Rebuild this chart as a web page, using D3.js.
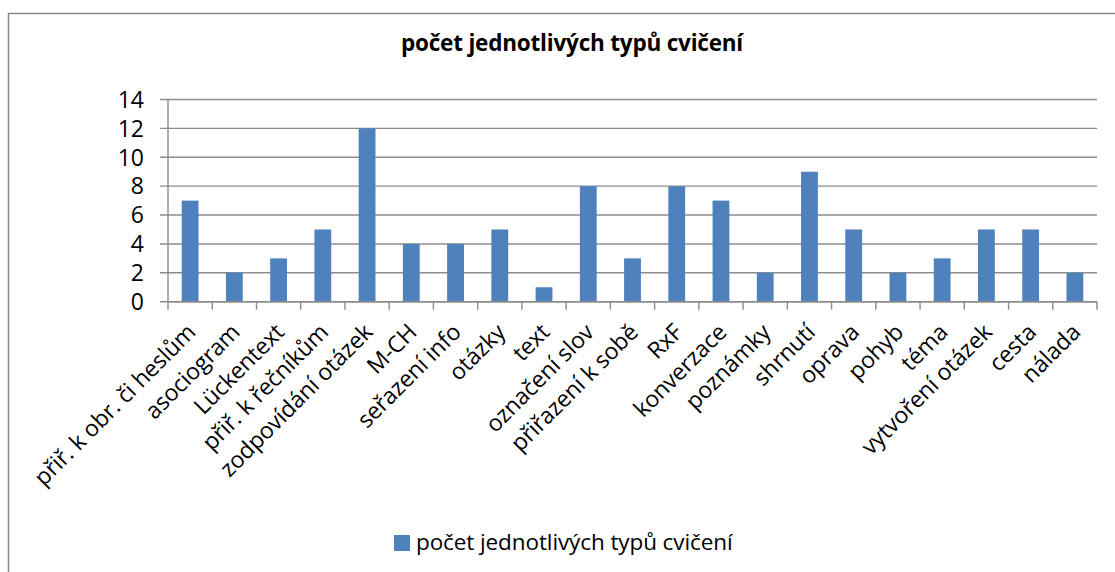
<!DOCTYPE html>
<html><head><meta charset="utf-8">
<script src="https://cdn.jsdelivr.net/npm/d3@7"></script>
<style>body{margin:0;background:#fff}svg{display:block}text{font-family:"Open Sans",sans-serif;fill:#000}</style>
</head><body>
<svg id="c" width="1115" height="572"></svg>
<script>
const categories = ["přiř. k obr. či heslům","asociogram","Lückentext","přiř. k řečníkům","zodpovídání otázek","M-CH","seřazení info","otázky","text","označení slov","přiřazení k sobě","RxF","konverzace","poznámky","shrnutí","oprava","pohyb","téma","vytvoření otázek","cesta","nálada"];
const values = [7,2,3,5,12,4,4,5,1,8,3,8,7,2,9,5,2,3,5,5,2];
const yTicks = [0,2,4,6,8,10,12,14];
const seriesName = "počet jednotlivých typů cvičení";
const titleText = "počet jednotlivých typů cvičení";

const svg = d3.select("#c");
svg.append("rect").attr("x",8.5).attr("y",13.5).attr("width",1130).attr("height",600)
  .attr("fill","none").attr("stroke","#8a8a8a").attr("stroke-width",1.5);

const L=168,R=1097,T=99.5,B=301.7;
const x = d3.scaleBand().domain(categories).range([L,R]).paddingInner(0.62).paddingOuter(0.31);
const xb = d3.scaleBand().domain(categories).range([L,R]);
const y = d3.scaleLinear().domain([0,14]).range([B,T]);

svg.append("text").attr("x",572).attr("y",51).attr("text-anchor","middle")
  .style("font-weight","bold").style("font-size","22.5px").style("letter-spacing","-0.2px").text(titleText);

// gridlines
svg.append("g").selectAll("line").data(yTicks).join("line")
  .attr("x1",160).attr("x2",R).attr("y1",d=>y(d)).attr("y2",d=>y(d))
  .attr("stroke","#8c8c8c").attr("stroke-width",1.4);

// y axis
svg.append("line").attr("x1",L).attr("x2",L).attr("y1",T).attr("y2",B).attr("stroke","#8c8c8c").attr("stroke-width",1.4);
svg.append("g").selectAll("text").data(yTicks).join("text")
  .attr("x",144).attr("y",d=>y(d)).attr("dy","0.36em").attr("text-anchor","end")
  .style("font-size","23px").text(d=>d);

// bars
svg.append("g").selectAll("rect").data(values).join("rect")
  .attr("x",(d,i)=>x(categories[i])).attr("width",x.bandwidth())
  .attr("y",d=>y(d)).attr("height",d=>B-y(d)).attr("fill","#4F81BD");

// x axis
svg.append("line").attr("x1",L).attr("x2",R).attr("y1",B).attr("y2",B).attr("stroke","#8c8c8c").attr("stroke-width",1.4);
const bounds = categories.map(c=>xb(c)).concat([R]);
svg.append("g").selectAll("line").data(bounds).join("line")
  .attr("x1",d=>d).attr("x2",d=>d).attr("y1",B).attr("y2",B+8)
  .attr("stroke","#8c8c8c").attr("stroke-width",1.4);

svg.append("g").selectAll("text").data(categories).join("text")
  .attr("transform",d=>`translate(${xb(d)+xb.bandwidth()/2-2},${B+23}) rotate(-45)`)
  .attr("text-anchor","end").attr("dy","0.55em")
  .style("font-size","23px").style("letter-spacing","-0.15px").text(d=>d);

// legend
svg.append("rect").attr("x",394).attr("y",535).attr("width",16).attr("height",16).attr("fill","#4F81BD");
svg.append("text").attr("x",416).attr("y",550).style("font-size","22.5px").style("letter-spacing","-0.1px").text(seriesName);
</script>
</body></html>
